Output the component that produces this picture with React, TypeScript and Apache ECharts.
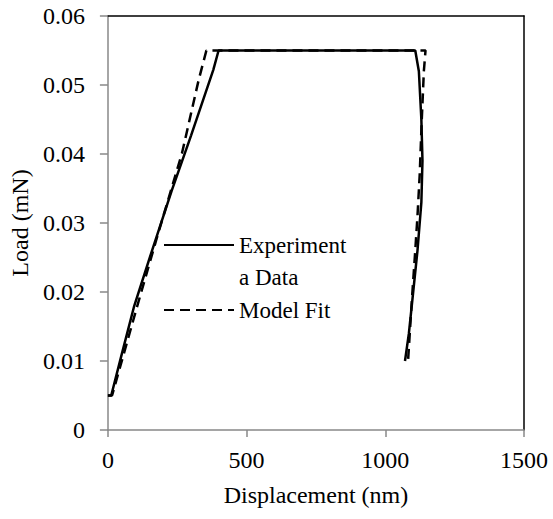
import React, { useEffect, useRef } from "react";
import * as echarts from "echarts";

const expX = [0, 12, 50, 95, 155, 231, 300, 380, 399, 1108, 1121, 1130, 1134, 1130, 1116, 1098, 1085, 1071];
const expY = [0.005, 0.005, 0.011, 0.018, 0.0255, 0.0348, 0.0427, 0.0522, 0.055, 0.055, 0.052, 0.045, 0.039, 0.033, 0.026, 0.019, 0.014, 0.010];

const modelX = [0, 15, 106, 174, 267, 327, 355, 1145, 1139, 1131, 1124, 1116, 1108, 1096, 1082];
const modelY = [0.005, 0.005, 0.018, 0.0275, 0.0401, 0.0507, 0.055, 0.055, 0.052, 0.0445, 0.037, 0.031, 0.026, 0.019, 0.010];

const xTicks = { min: 0, max: 1500, interval: 500 };
const yTicks = { min: 0, max: 0.06, interval: 0.01 };

const FONT = "Liberation Serif";
const AXIS_GRAY = "#888888";

export default function App() {
  const ref = useRef<HTMLDivElement>(null);
  useEffect(() => {
    document.body.style.margin = "0";
    if (!ref.current) return;
    const chart = echarts.init(ref.current, undefined, { renderer: "svg" });
    const expData = expX.map((x, i) => [x, expY[i]]);
    const modelData = modelX.map((x, i) => [x, modelY[i]]);
    const legendText = { fontFamily: FONT, fontSize: 23, color: "#000", lineHeight: 32 };
    const hiddenSymbol = { color: "rgba(0,0,0,0)", borderWidth: 0, opacity: 0 };
    chart.setOption({
      animation: false,
      textStyle: { fontFamily: FONT, color: "#000" },
      grid: { left: 103, right: 29, top: 16, bottom: 89, containLabel: false },
      legend: [
        {
          data: ["Experimental Data"],
          orient: "vertical",
          left: 163,
          top: 197,
          padding: 0,
          itemWidth: 70,
          itemHeight: 14,
          itemStyle: hiddenSymbol,
          formatter: () => "\nExperiment\na Data",
          textStyle: legendText,
        },
        {
          data: ["Model Fit"],
          orient: "vertical",
          left: 163,
          top: 294,
          padding: 0,
          itemWidth: 70,
          itemHeight: 14,
          itemStyle: hiddenSymbol,
          textStyle: legendText,
        },
      ],
      xAxis: [
        {
          type: "value",
          min: xTicks.min,
          max: xTicks.max,
          interval: xTicks.interval,
          name: "Displacement (nm)",
          nameLocation: "middle",
          nameGap: 53,
          nameTextStyle: { fontFamily: FONT, fontSize: 24, color: "#000" },
          axisLine: { show: true, onZero: false, lineStyle: { color: AXIS_GRAY, width: 1.5 } },
          axisTick: { show: true, length: 7, lineStyle: { color: AXIS_GRAY, width: 1.5 } },
          axisLabel: {
            margin: 18,
            fontFamily: FONT,
            fontSize: 24,
            color: "#000",
            formatter: (v: number) => String(v),
          },
          splitLine: { show: false },
        },
        {
          type: "value",
          position: "top",
          min: xTicks.min,
          max: xTicks.max,
          axisLine: { show: true, onZero: false, lineStyle: { color: "#000", width: 1.5 } },
          axisTick: { show: false },
          axisLabel: { show: false },
          splitLine: { show: false },
        },
      ],
      yAxis: [
        {
          type: "value",
          min: yTicks.min,
          max: yTicks.max,
          interval: yTicks.interval,
          name: "Load (mN)",
          nameLocation: "middle",
          nameGap: 67,
          nameTextStyle: { fontFamily: FONT, fontSize: 24, color: "#000" },
          axisLine: { show: true, onZero: false, lineStyle: { color: AXIS_GRAY, width: 1.5 } },
          axisTick: { show: true, length: 8, lineStyle: { color: AXIS_GRAY, width: 1.5 } },
          axisLabel: {
            margin: 23,
            fontFamily: FONT,
            fontSize: 24,
            color: "#000",
            formatter: (v: number) => String(Math.round(v * 100) / 100),
          },
          splitLine: { show: false },
        },
        {
          type: "value",
          position: "right",
          min: yTicks.min,
          max: yTicks.max,
          axisLine: { show: true, onZero: false, lineStyle: { color: "#000", width: 1.5 } },
          axisTick: { show: false },
          axisLabel: { show: false },
          splitLine: { show: false },
        },
      ],
      series: [
        {
          name: "Experimental Data",
          type: "line",
          data: expData,
          showSymbol: false,
          symbol: "none",
          lineStyle: { color: "#000", width: 2.5, type: "solid" },
          itemStyle: { color: "#000" },
        },
        {
          name: "Model Fit",
          type: "line",
          data: modelData,
          showSymbol: false,
          symbol: "none",
          lineStyle: { color: "#000", width: 2.5, type: [10, 6] },
          itemStyle: { color: "#000" },
        },
      ],
    });
    return () => chart.dispose();
  }, []);
  return <div ref={ref} style={{ width: 553, height: 519 }} />;
}
